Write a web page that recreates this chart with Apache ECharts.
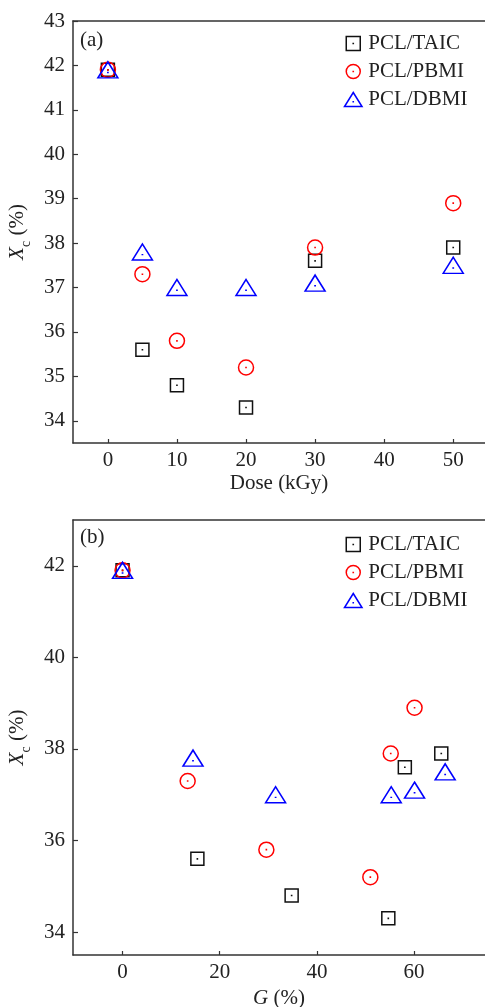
<!DOCTYPE html>
<html>
<head>
<meta charset="utf-8">
<script src="https://cdn.jsdelivr.net/npm/echarts@6/dist/echarts.min.js"></script>
<style>html,body{margin:0;padding:0;background:#fff}#c{width:485px;height:1007px}</style>
</head>
<body>
<div id="c"></div>
<script>
// ---- data ----
const seriesNames = ['PCL/TAIC', 'PCL/PBMI', 'PCL/DBMI'];
// panel (a): Dose (kGy)
const doseTAIC = [0, 5, 10, 20, 30, 50];
const xcTAIC = [41.9, 35.6, 34.8, 34.3, 37.6, 37.9];
const dosePBMI = [0, 5, 10, 20, 30, 50];
const xcPBMI = [41.9, 37.3, 35.8, 35.2, 37.9, 38.9];
const doseDBMI = [0, 5, 10, 20, 30, 50];
const xcDBMI = [41.9, 37.8, 37.0, 37.0, 37.1, 37.5];
// panel (b): G (%)
const gTAIC = [0, 15.4, 34.8, 54.7, 58.1, 65.6];
const gPBMI = [0, 13.4, 29.6, 51.0, 55.2, 60.1];
const gDBMI = [0, 14.5, 31.5, 55.3, 60.1, 66.4];
// tick labels
const doseTicks = [0, 10, 20, 30, 40, 50];
const xcTicksA = [34, 35, 36, 37, 38, 39, 40, 41, 42, 43];
const gTicks = [0, 20, 40, 60];
const xcTicksB = [34, 36, 38, 40, 42];

const FONT = 'Liberation Serif';
const TXT = '#222';
const colors = ['#111111', '#ff0000', '#0000ff'];
const sqPath = 'path://M0 0 H10 V10 H0 Z M4.95 4.95 H5.05 V5.05 H4.95 Z';
const cirPath = 'path://M0 5 A5 5 0 1 1 10 5 A5 5 0 1 1 0 5 Z M4.95 4.95 H5.05 V5.05 H4.95 Z';
const triPath = 'path://M10 0 L20 16 L0 16 Z M9.95 10.6 H10.05 V10.7 H9.95 Z';
const symbols = [sqPath, cirPath, triPath];
const sizes = [13, 15, [20, 16]];

function pairs(xs, ys) { return xs.map((x, i) => [x, ys[i]]); }

const chart = echarts.init(document.getElementById('c'), null, {renderer: 'canvas'});

function xAxisCfg(idx, min, max, ticks, nameRich, gap) {
  return {
    type: 'value', gridIndex: idx, min: min, max: max, position: 'bottom',
    name: nameRich, nameLocation: 'middle', nameGap: gap,
    nameTextStyle: {fontFamily: FONT, fontSize: 21, color: TXT,
      rich: {i: {fontFamily: FONT, fontSize: 21, fontStyle: 'italic', color: TXT}}},
    axisLine: {show: true, onZero: false, lineStyle: {color: '#333', width: 1.5}},
    axisTick: {show: true, inside: true, length: 4, customValues: ticks, lineStyle: {color: '#333', width: 1.2}},
    axisLabel: {customValues: ticks, margin: 7, fontFamily: FONT, fontSize: 21, color: TXT},
    splitLine: {show: false}
  };
}
function topAxisCfg(idx, min, max) {
  return {
    type: 'value', gridIndex: idx, min: min, max: max, position: 'top',
    axisLine: {show: true, onZero: false, lineStyle: {color: '#333', width: 1.5}},
    axisTick: {show: false}, axisLabel: {show: false}, splitLine: {show: false}
  };
}
function yAxisCfg(idx, min, max, ticks) {
  return {
    type: 'value', gridIndex: idx, min: min, max: max,
    name: '{i|X}{s|c}{n| (%)}', nameLocation: 'middle', nameGap: 34, nameRotate: 90,
    nameTextStyle: {fontFamily: FONT, fontSize: 21, color: TXT,
      rich: {
        i: {fontFamily: FONT, fontSize: 21, fontStyle: 'italic', color: TXT, padding: [0, 0, 5, 0]},
        s: {fontFamily: FONT, fontSize: 14, color: TXT, verticalAlign: 'bottom'},
        n: {fontFamily: FONT, fontSize: 21, color: TXT, padding: [0, 0, 5, 0]}
      }},
    axisLine: {show: true, onZero: false, lineStyle: {color: '#333', width: 1.5}},
    axisTick: {show: true, inside: true, length: 5, customValues: ticks, lineStyle: {color: '#333', width: 1.2}},
    axisLabel: {customValues: ticks, margin: 8, fontFamily: FONT, fontSize: 21, color: TXT},
    splitLine: {show: false}
  };
}

const dataA = [pairs(doseTAIC, xcTAIC), pairs(dosePBMI, xcPBMI), pairs(doseDBMI, xcDBMI)];
const dataB = [pairs(gTAIC, xcTAIC), pairs(gPBMI, xcPBMI), pairs(gDBMI, xcDBMI)];

const series = [];
[dataA, dataB].forEach((set, p) => {
  set.forEach((d, k) => {
    series.push({
      type: 'scatter', name: seriesNames[k], xAxisIndex: p, yAxisIndex: p,
      data: d, symbol: symbols[k], symbolSize: sizes[k], symbolKeepAspect: false,
      itemStyle: {color: 'none', borderColor: colors[k], borderWidth: 1.5, opacity: 1},
      emphasis: {disabled: true}, z: 2 + k
    });
  });
});

function legendCfg(top) {
  return {
    orient: 'vertical', left: 337, top: top, itemWidth: 20, itemHeight: 14, itemGap: 7,
    textStyle: {fontFamily: FONT, fontSize: 21, color: TXT, lineHeight: 21},
    selectedMode: false,
    data: seriesNames.map((n, k) => ({name: n, icon: symbols[k],
      itemStyle: {color: 'none', borderColor: colors[k], borderWidth: 1.5}}))
  };
}

chart.setOption({
  animation: false,
  backgroundColor: '#fff',
  grid: [
    {left: 73, top: 21, right: 0, height: 422, outerBoundsMode: 'none', containLabel: false},
    {left: 73, top: 520, right: 0, height: 435, outerBoundsMode: 'none', containLabel: false}
  ],
  legend: [legendCfg(28), legendCfg(529)],
  xAxis: [
    xAxisCfg(0, -5.05, 54.6, doseTicks, 'Dose (kGy)', 30),
    xAxisCfg(1, -10.2, 74.6, gTicks, '{i|G} (%)', 33),
    topAxisCfg(0, -5.05, 54.6),
    topAxisCfg(1, -10.2, 74.6)
  ],
  yAxis: [
    yAxisCfg(0, 33.5, 43, xcTicksA),
    yAxisCfg(1, 33.5, 43, xcTicksB)
  ],
  graphic: [
    {type: 'text', left: 80, top: 30, style: {text: '(a)', fontFamily: FONT, fontSize: 21, fill: TXT}},
    {type: 'text', left: 80, top: 527, style: {text: '(b)', fontFamily: FONT, fontSize: 21, fill: TXT}}
  ],
  series: series
});
</script>
</body>
</html>
